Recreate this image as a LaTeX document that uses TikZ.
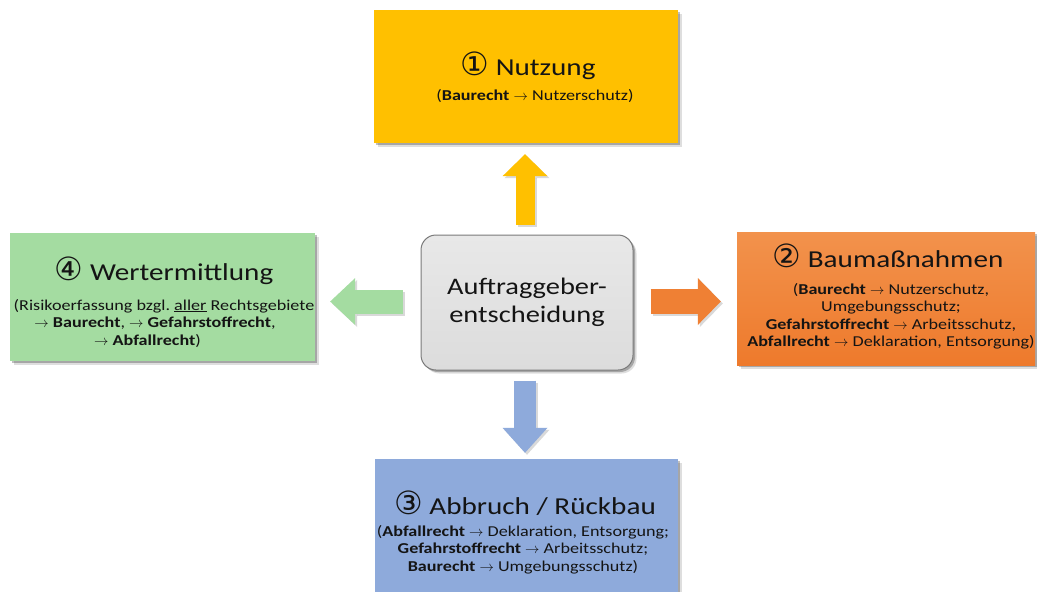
\documentclass[tikz,border=0pt]{standalone}
\usepackage{fontspec}
\setmainfont{Carlito}[FakeStretch=1.2]
\newfontfamily\symf{DejaVu Sans}
\usetikzlibrary{shadows,arrows.meta,calc}
\frenchspacing
\definecolor{cYellow}{HTML}{FFC000}
\definecolor{cOrangeT}{HTML}{F2924C}
\definecolor{cOrangeB}{HTML}{EE7A2C}
\definecolor{cOrange}{HTML}{EF8034}
\definecolor{cGreen}{HTML}{A4DCA1}
\definecolor{cBlue}{HTML}{8EAADB}
\definecolor{cGrayT}{HTML}{E8E8E8}
\definecolor{cGrayB}{HTML}{DCDCDC}
\definecolor{cBorder}{HTML}{7A7A7A}
\definecolor{cText}{HTML}{141414}
\newcommand\arr{$\rightarrow$}
\newcommand\cn[1]{{\symf\fontsize{32}{33}\selectfont #1}}
\begin{document}
\begin{tikzpicture}[x=1pt,y=-1pt,
  softshadow/.style={
    general shadow={shadow xshift=2pt,shadow yshift=-2pt,opacity=.25,fill=black},
    general shadow={shadow xshift=3.5pt,shadow yshift=-3.5pt,opacity=.13,fill=black}},
  rbox/.style={draw=none,softshadow,inner sep=0pt},
  ttl/.style={font=\fontsize{24.3}{28}\selectfont,inner sep=0pt,anchor=base,text=cText},
  sub/.style={font=\fontsize{15.1}{17.5}\selectfont\frenchspacing,inner sep=0pt,anchor=base,text=cText},
]
\useasboundingbox (0,0) rectangle (1037,592);
\clip (0,0) rectangle (1037,592);
\fill[white] (0,0) rectangle (1037,592);

% boxes
\node[rbox,fill=cYellow,minimum width=304pt,minimum height=133pt] (nutz) at (526,76.5) {};
\node[rbox,fill=cGreen,minimum width=305pt,minimum height=128pt] (wert) at (162.5,297) {};
\node[rbox,top color=cOrangeT,bottom color=cOrangeB,minimum width=298pt,minimum height=133pt] (bau) at (886,298.5) {};
\node[rbox,fill=cBlue,minimum width=303pt,minimum height=140pt] (abb) at (526.5,529) {};
\node[rbox,top color=cGrayT,bottom color=cGrayB,draw=cBorder,line width=1pt,rounded corners=15pt,
      minimum width=212pt,minimum height=135pt,align=center,
      font=\fontsize{23.7}{28}\selectfont,text=cText] (c) at (527,302.5)
      {Auftraggeber-\\entscheidung};

% texts
\node[ttl] (nutzT) at (528,75) {\cn{①} Nutzung};
\node[sub] (nutzS) at (535,100) {(\textbf{Baurecht} \arr{} Nutzerschutz)};

\node[ttl] (wertT) at (164,280) {\cn{④} Wertermittlung};
\node[sub] (wertS) at (164,310) {\begin{tabular}[t]{@{}c@{}}
(Risikoerfassung bzgl. \underline{aller} Rechtsgebiete\\
\arr{} \textbf{Baurecht}, \arr{} \textbf{Gefahrstoffrecht},\hspace*{18pt}\\
\arr{} \textbf{Abfallrecht})\hspace*{33pt}\end{tabular}};

\node[ttl] (bauT) at (888,267) {\cn{②} Baumaßnahmen};
\node[sub] (bauS) at (891,294) {\begin{tabular}[t]{@{}c@{}}
(\textbf{Baurecht} \arr{} Nutzerschutz,\\
Umgebungsschutz;\\
\textbf{Gefahrstoffrecht} \arr{} Arbeitsschutz,\\
\textbf{Abfallrecht} \arr{} Deklaration, Entsorgung)\end{tabular}};

\node[ttl] (abbT) at (525,514) {\cn{③} Abbruch / Rückbau};
\node[sub] (abbS) at (523,536) {\begin{tabular}[t]{@{}c@{}}
(\textbf{Abfallrecht} \arr{} Deklaration, Entsorgung;\\
\textbf{Gefahrstoffrecht} \arr{} Arbeitsschutz;\\
\textbf{Baurecht} \arr{} Umgebungsschutz)\end{tabular}};

% block arrows (shadow first)
\begin{scope}[transform canvas={xshift=2pt,yshift=-2pt}]
\draw[black,opacity=.15,line width=19pt,shorten <=10pt,shorten >=11pt,
  -{Triangle[width=45pt,length=22pt,line width=0pt]}]
  ([xshift=-2pt]c.north) -- ([xshift=-2pt]c.north |- nutz.south);
\draw[black,opacity=.15,line width=22pt,shorten <=10pt,shorten >=6pt,
  -{Triangle[width=45pt,length=25pt,line width=0pt]}]
  ([xshift=-2pt]c.south) -- ([xshift=-2pt]c.south |- abb.north);
\draw[black,opacity=.15,line width=24pt,shorten <=18pt,shorten >=15pt,
  -{Triangle[width=47pt,length=25pt,line width=0pt]}]
  ([yshift=1pt]c.west) -- ([yshift=1pt]c.west -| wert.east);
\draw[black,opacity=.15,line width=25pt,shorten <=17pt,shorten >=16pt,
  -{Triangle[width=47pt,length=23pt,line width=0pt]}]
  ([yshift=1pt]c.east) -- ([yshift=1pt]c.east -| bau.west);
\end{scope}
\draw[cYellow,line width=19pt,shorten <=10pt,shorten >=11pt,
  -{Triangle[width=45pt,length=22pt,line width=0pt]}]
  ([xshift=-2pt]c.north) -- ([xshift=-2pt]c.north |- nutz.south);
\draw[cBlue,line width=22pt,shorten <=10pt,shorten >=6pt,
  -{Triangle[width=45pt,length=25pt,line width=0pt]}]
  ([xshift=-2pt]c.south) -- ([xshift=-2pt]c.south |- abb.north);
\draw[cGreen,line width=24pt,shorten <=18pt,shorten >=15pt,
  -{Triangle[width=47pt,length=25pt,line width=0pt]}]
  ([yshift=1pt]c.west) -- ([yshift=1pt]c.west -| wert.east);
\draw[cOrange,line width=25pt,shorten <=17pt,shorten >=16pt,
  -{Triangle[width=47pt,length=23pt,line width=0pt]}]
  ([yshift=1pt]c.east) -- ([yshift=1pt]c.east -| bau.west);
\end{tikzpicture}
\end{document}
